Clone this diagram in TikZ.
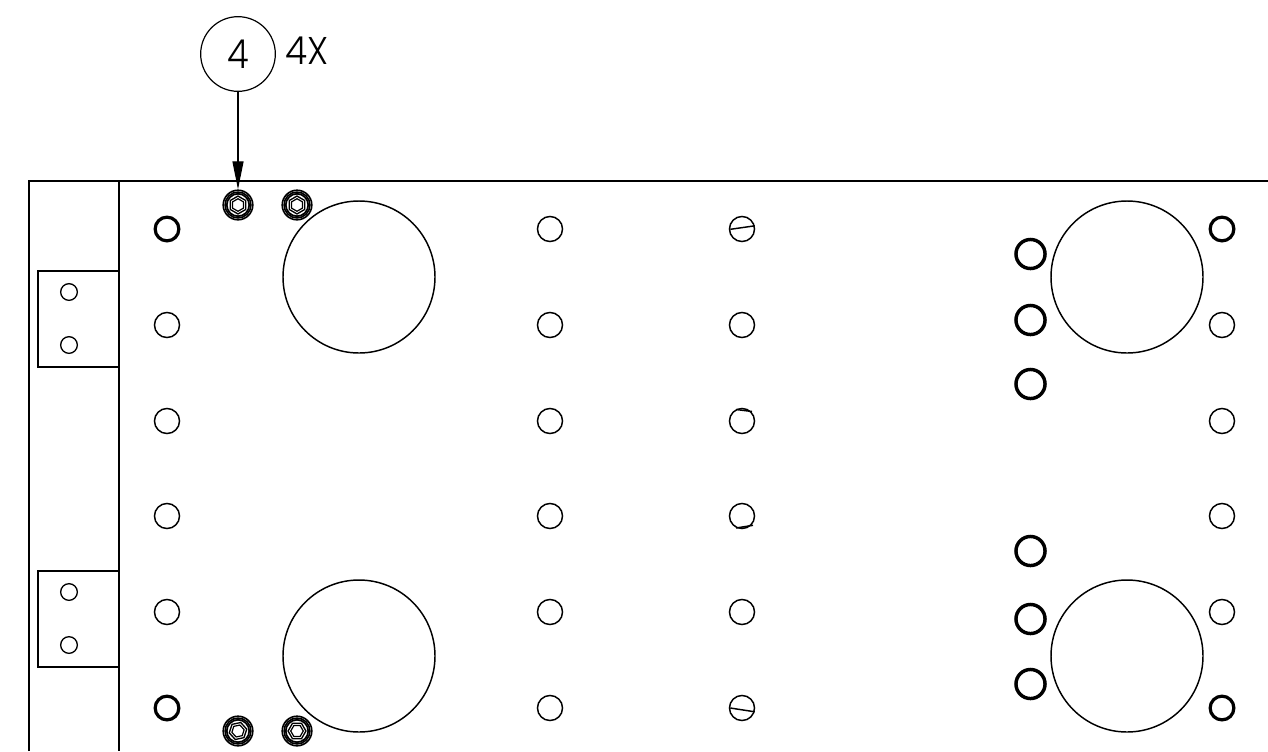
\documentclass[tikz,border=0pt]{standalone}
\usepackage{fontspec}
\setmainfont{Poppins Light}[]
\usetikzlibrary{arrows.meta,calc}
\tikzset{
  line/.style={line width=1.1pt,black},
  hole/.style={circle,draw,line width=1.1pt,minimum size=18.8pt,inner sep=0pt,outer sep=0pt},
  thickhole/.style={circle,draw,line width=2.4pt,minimum size=17.8pt,inner sep=0pt,outer sep=0pt},
  bighole/.style={circle,draw,line width=2.6pt,minimum size=21.8pt,inner sep=0pt,outer sep=0pt},
  smallhole/.style={circle,draw,line width=1pt,minimum size=12.5pt,inner sep=0pt,outer sep=0pt},
  port/.style={circle,draw,line width=1.1pt,minimum size=114pt,inner sep=0pt,outer sep=0pt},
  balloon/.style={circle,draw,line width=0.9pt,minimum size=56pt,inner sep=0pt,outer sep=0pt},
  screw/.style={circle,minimum size=23.5pt,inner sep=0pt,outer sep=0pt},
}
\newcommand{\screwrings}[2]{%
  \draw[line width=1.2pt] (#1) circle[radius=11.1pt];
  \draw[line width=1.2pt] (#1) circle[radius=9.7pt];
  \draw[line width=1.3pt] (#1) circle[radius=8.4pt];
  \foreach \r/\w in {6.7/1pt,4.7/0.9pt}{
    \draw[line width=\w,line join=round] ($(#1)+(#2:\r pt)$)
      -- ($(#1)+(#2+60:\r pt)$) -- ($(#1)+(#2+120:\r pt)$) -- ($(#1)+(#2+180:\r pt)$)
      -- ($(#1)+(#2+240:\r pt)$) -- ($(#1)+(#2+300:\r pt)$) -- cycle;
  }
}
\begin{document}
\begin{tikzpicture}[x=0.75pt,y=-0.75pt]
\useasboundingbox (0,0) rectangle (1268,751);
% frame
\draw[line] (29,751) -- (29,181) -- (1268,181);
\draw[line] (119,181) -- (119,751);
\draw[line] (119,271) -- (38,271) -- (38,367) -- (119,367);
\draw[line] (119,571) -- (38,571) -- (38,667) -- (119,667);
% hinge holes
\foreach \n/\x/\y in {a/69/292,b/69/345,c/69/592,d/69/645}
  \node[smallhole] (s\n) at (\x,\y) {};
% rows of holes
\foreach \n/\x/\y in {
  a2/167/325,a3/167/421,a4/167/516,a5/167/612,
  b1/550/229,b2/550/325,b3/550/421,b4/550/516,b5/550/612,b6/550/708,
  c1/742/229,c2/742/325,c3/742/421,c4/742/516,c5/742/612,c6/742/708,
  d2/1222/325,d3/1222/421,d4/1222/516,d5/1222/612}
  \node[hole] (h\n) at (\x,\y) {};
\foreach \n/\x/\y in {a1/167/229,a6/167/708,d1/1222/229,d6/1222/708}
  \node[thickhole] (h\n) at (\x,\y) {};
\foreach \n/\y in {1/254,2/320,3/384,4/551,5/619,6/684}
  \node[bighole] (g\n) at (1030.5,\y) {};
% slots
\draw[line] (730.3,229.3) -- (754.8,225.8);
\draw[line] (730.3,708) -- (754.8,711.8);
\draw[line] (736,409.5) -- (752,411.5);
\draw[line] (736,528) -- (753,525.3);
% large circles
\node[port] (p1) at (359,277) {};
\node[port] (p2) at (359,656) {};
\node[port] (p3) at (1127,277) {};
\node[port] (p4) at (1127,656) {};
% screws
\node[screw] (s1) at (238,205) {};
\node[screw] (s2) at (297,205) {};
\node[screw] (s3) at (238,731) {};
\node[screw] (s4) at (297,731) {};
\screwrings{s1}{30}
\screwrings{s2}{30}
\screwrings{s3}{12}
\screwrings{s4}{0}
% balloon
\node[balloon,font=\fontsize{30pt}{30pt}\selectfont] (bal) at (238,54) {\raisebox{-1.5pt}{\scalebox{0.88}[1]{4}}};
\node[anchor=west,inner sep=0pt,font=\fontsize{29pt}{29pt}\selectfont] (qty) at (285,50.5) {\scalebox{0.93}[1]{4X}};
\draw[line width=0.8pt,-{Triangle[length=21pt,width=8.3pt]}] (bal) -- (s1.north);
\end{tikzpicture}
\end{document}
